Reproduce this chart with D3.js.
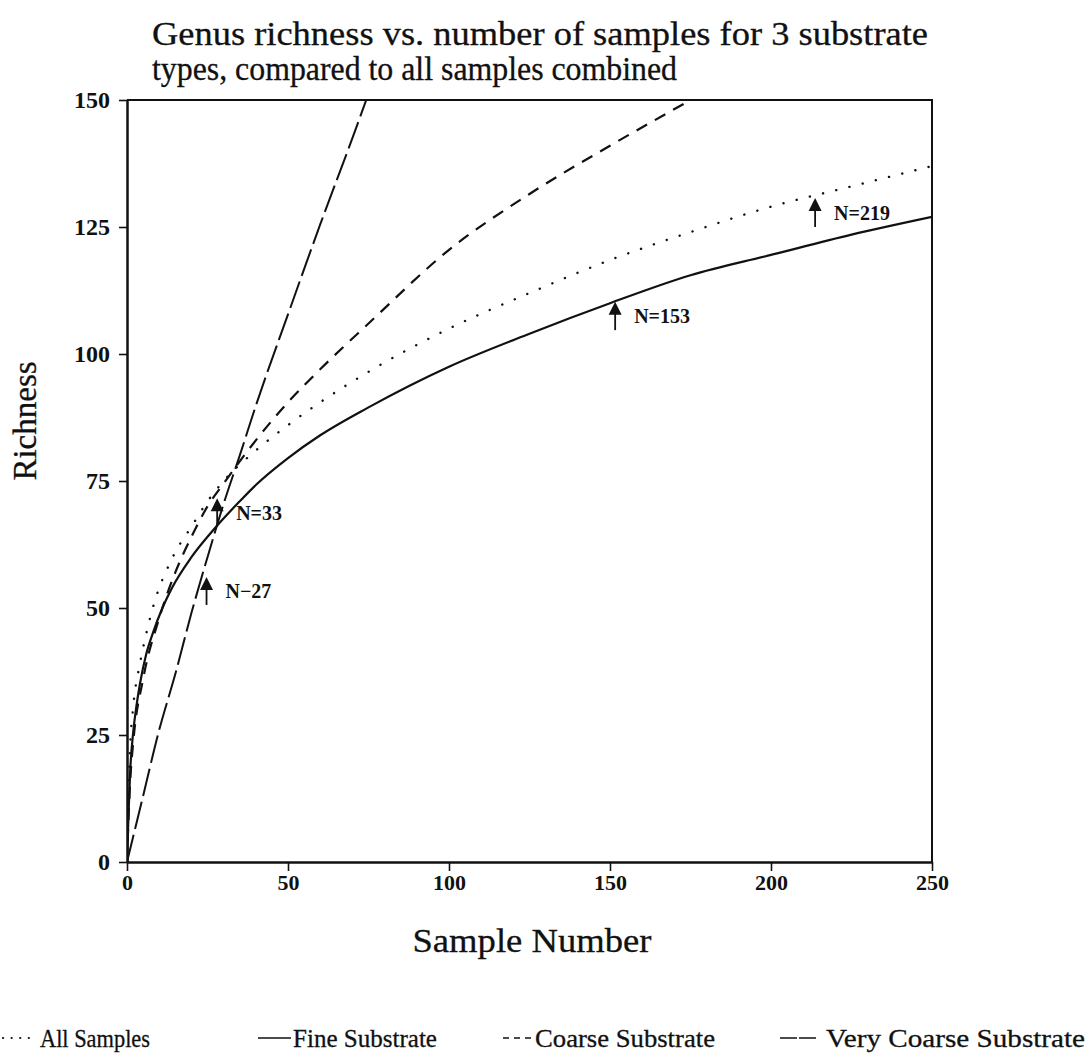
<!DOCTYPE html>
<html><head><meta charset="utf-8">
<script src="https://cdn.jsdelivr.net/npm/d3@7"></script>
<style>
html,body{margin:0;padding:0;background:#fff;}
svg text{font-family:"Liberation Serif","Times New Roman",serif;fill:#111;}
</style></head>
<body>
<svg id="chart" width="1090" height="1053"></svg>
<script>
// ---- data ----
const titleLines = ["Genus richness vs. number of samples for 3 substrate", "types, compared to all samples combined"];
const xTicks = [0, 50, 100, 150, 200, 250];
const yTicks = [0, 25, 50, 75, 100, 125, 150];

const allX = [0,0.5,1,2,4,6,8,10,12,15,20,25,30,40,50,60,75,100,125,150,175,200,225,250];
const allY = [0,14,23,31,39,45,50,54,57,61,66,71,75,81,86,90.5,96.5,105,112,118.5,124,129,133,137];

const fineX = [0,0.5,1,2,3,4,6,8,11,14,20,27,35,40,50,60,75,100,125,150,175,200,225,250];
const fineY = [0,10,18,26,31,35,41,45,50,54,60,65.5,71,74.2,79.5,84,89.5,97.5,104,110,115.5,119.5,123.5,127];

const coarseX = [0,0.5,1,2,5,10,15,20,25,30,40,50,60,75,100,125,150,175,180];
const coarseY = [0,9,16,24,36,48,57,64,70,74.5,83,90.5,97,106,120.5,131.5,141,150,151.8];

const vcoarseX = [0,5,10,15,20,25,30,35,40,50,60,70,76];
const vcoarseY = [0,13,26,37,49,60,70.5,80,89.8,107.8,125.5,142.5,153];

const seriesNames = ["All Samples", "Fine Substrate", "Coarse Substrate", "Very Coarse Substrate"];

const annLabels = ["N=33", "N\u221227", "N=153", "N=219"];
const annX = [28, 24.7, 151.6, 213.7];
const annTip = [71.6, 56.1, 110.3, 130.7];
const annBase = [66, 50.6, 104.7, 125];

// ---- drawing ----
const svg = d3.select("#chart");
const x = d3.scaleLinear().domain([0, 250]).range([127, 932]);
const y = d3.scaleLinear().domain([0, 150]).range([862, 100]);

svg.append("defs").append("clipPath").attr("id", "plotClip")
  .append("rect").attr("x", 127).attr("y", 100).attr("width", 805).attr("height", 762);

// title
const titleWidths = [776, 525];
svg.append("g").selectAll("text").data(titleLines).join("text")
  .attr("x", 152).attr("y", (d, i) => 45 + i * 35)
  .attr("font-size", 33).attr("stroke", "#111").attr("stroke-width", 0.3)
  .attr("textLength", (d, i) => titleWidths[i]).attr("lengthAdjust", "spacingAndGlyphs")
  .text(d => d);

// frame (top + right)
svg.append("path").attr("d", `M${x(0)},${y(150)}H${x(250)}V${y(0)}`)
  .attr("fill", "none").attr("stroke", "#111").attr("stroke-width", 2);

// axes
const xAxis = svg.append("g").attr("transform", `translate(0,${y(0)})`)
  .call(d3.axisBottom(x).tickValues(xTicks).tickSize(9).tickSizeOuter(0).tickPadding(4));
const yAxis = svg.append("g").attr("transform", `translate(${x(0)},0)`)
  .call(d3.axisLeft(y).tickValues(yTicks).tickSize(8).tickSizeOuter(0).tickPadding(9));
[xAxis, yAxis].forEach(a => {
  a.select(".domain").attr("stroke", "#111").attr("stroke-width", 2.5);
  a.selectAll(".tick line").attr("stroke", "#111").attr("stroke-width", 1.6);
  a.selectAll(".tick text").attr("font-family", "Liberation Serif, Times New Roman, serif")
    .attr("font-weight", "bold").attr("fill", "#111");
});
xAxis.selectAll(".tick text").attr("font-size", 22).attr("dy", "0.66em");
yAxis.selectAll(".tick text").attr("font-size", 24).attr("dy", "0.33em");

// axis labels
svg.append("text").attr("x", 532).attr("y", 952).attr("text-anchor", "middle")
  .attr("font-size", 34).attr("stroke", "#111").attr("stroke-width", 0.3)
  .attr("textLength", 239).attr("lengthAdjust", "spacingAndGlyphs").text("Sample Number");
svg.append("text").attr("transform", "translate(36,421) rotate(-90)").attr("text-anchor", "middle")
  .attr("font-size", 33).attr("stroke", "#111").attr("stroke-width", 0.3).text("Richness");

// curves
const styles = [
  {dash: "0.1 13.5", cap: "round", w: 2.4},
  {dash: null, cap: "butt", w: 2.2},
  {dash: "12 9", cap: "butt", w: 2.2},
  {dash: "28 6", cap: "butt", w: 2.0}
];
const seriesX = [allX, fineX, coarseX, vcoarseX];
const seriesY = [allY, fineY, coarseY, vcoarseY];
const line = d3.line().x(d => x(d[0])).y(d => y(d[1])).curve(d3.curveMonotoneX);
const plot = svg.append("g").attr("clip-path", "url(#plotClip)");
seriesX.forEach((xs, i) => {
  const pts = xs.map((v, j) => [v, seriesY[i][j]]);
  plot.append("path").datum(pts).attr("d", line)
    .attr("fill", "none").attr("stroke", "#111")
    .attr("stroke-width", styles[i].w)
    .attr("stroke-linecap", styles[i].cap)
    .attr("stroke-dasharray", styles[i].dash);
});

// annotations (arrows + labels)
const ann = svg.append("g");
annLabels.forEach((lab, i) => {
  const ax = x(annX[i]), yt = y(annTip[i]), yb = y(annBase[i]);
  ann.append("line").attr("x1", ax).attr("x2", ax).attr("y1", yt + 8).attr("y2", yb)
    .attr("stroke", "#111").attr("stroke-width", 1.8);
  ann.append("path").attr("d", `M${ax},${yt}L${ax - 6.5},${yt + 13}L${ax + 6.5},${yt + 13}Z`).attr("fill", "#111");
  ann.append("text").attr("x", ax + 19).attr("y", yb - 7)
    .attr("font-size", 20).attr("font-weight", "bold").text(lab);
});

// legend
const legendX = [3, 258, 503, 780];
const legendTextX = [40, 293, 535, 826];
const legendTextW = [110, 144, 180, 259];
const legDash = ["0.1 8.5", null, "6 5", "17 2"];
const legLen = [28, 33, 30, 36];
const leg = svg.append("g");
seriesNames.forEach((n, i) => {
  leg.append("line").attr("x1", legendX[i]).attr("x2", legendX[i] + legLen[i])
    .attr("y1", 1038).attr("y2", 1038)
    .attr("stroke", "#111").attr("stroke-width", i === 0 ? 2.2 : 1.6)
    .attr("stroke-linecap", i === 0 ? "round" : "butt")
    .attr("stroke-dasharray", legDash[i]);
  leg.append("text").attr("x", legendTextX[i]).attr("y", 1047)
    .attr("font-size", 25).attr("stroke", "#111").attr("stroke-width", 0.3)
    .attr("textLength", legendTextW[i]).attr("lengthAdjust", "spacingAndGlyphs").text(n);
});
</script>
</body></html>
